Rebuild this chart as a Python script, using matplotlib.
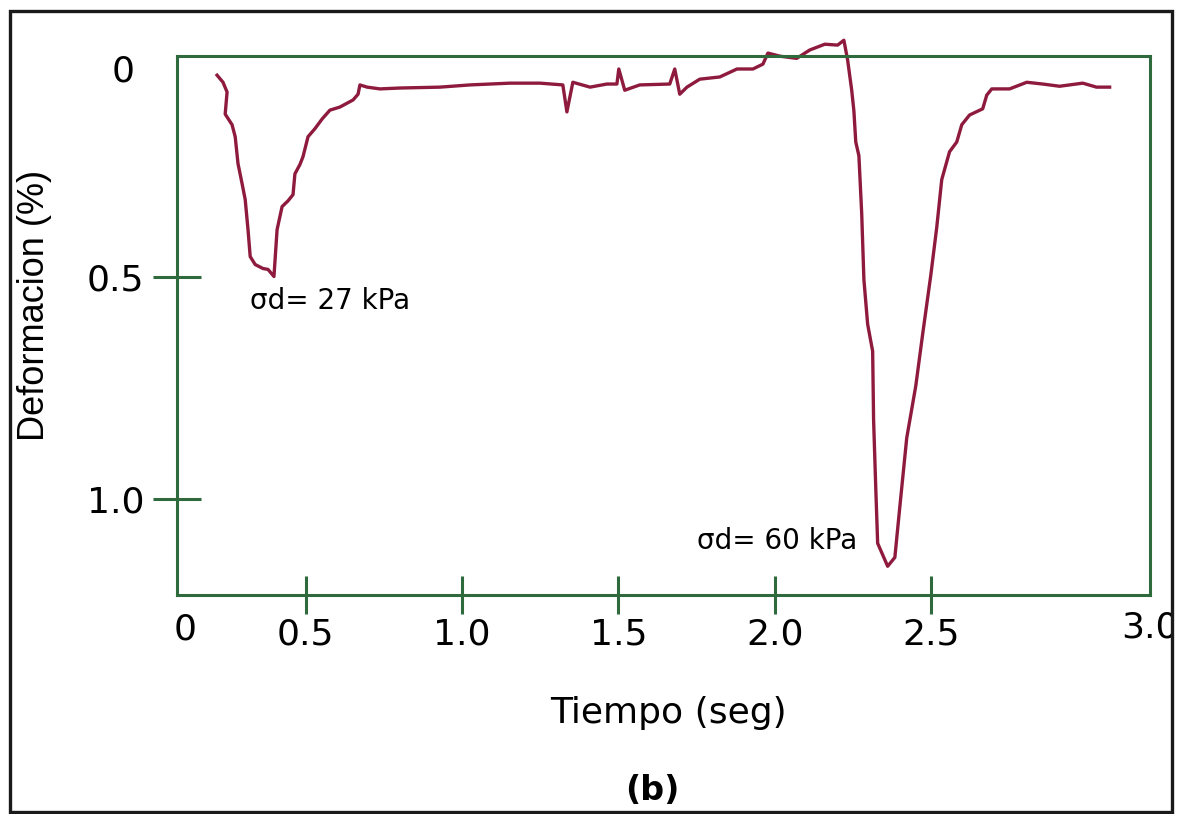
import matplotlib
matplotlib.use("Agg")
import matplotlib.pyplot as plt
from matplotlib.patches import Rectangle

# trace: time (s) vs deformation (%)
time_s = [0.216, 0.235, 0.248, 0.242, 0.264, 0.274, 0.283, 0.296, 0.306, 0.315,
          0.322, 0.338, 0.363, 0.379, 0.398, 0.408, 0.424, 0.443, 0.459, 0.465,
          0.481, 0.491, 0.507, 0.529, 0.552, 0.577, 0.609, 0.651, 0.667, 0.673,
          0.696, 0.737, 0.801, 0.929, 1.025, 1.153, 1.249, 1.322, 1.335, 1.354,
          1.409, 1.463, 1.495, 1.501, 1.520, 1.568, 1.664, 1.680, 1.696, 1.719,
          1.760, 1.824, 1.879, 1.930, 1.962, 1.978, 2.016, 2.070, 2.112, 2.160,
          2.201, 2.221, 2.233, 2.246, 2.253, 2.259, 2.269, 2.278, 2.285, 2.297,
          2.313, 2.316, 2.323, 2.329, 2.361, 2.384, 2.400, 2.422, 2.451, 2.473,
          2.499, 2.518, 2.534, 2.559, 2.582, 2.598, 2.623, 2.665, 2.678, 2.694,
          2.751, 2.806, 2.857, 2.911, 2.985, 3.029, 3.071]
deformation = [0.043, 0.059, 0.081, 0.131, 0.155, 0.182, 0.243, 0.288, 0.324, 0.392,
               0.453, 0.471, 0.480, 0.482, 0.498, 0.392, 0.340, 0.327, 0.313, 0.266,
               0.245, 0.227, 0.182, 0.164, 0.142, 0.122, 0.115, 0.099, 0.086, 0.065,
               0.070, 0.074, 0.072, 0.070, 0.065, 0.061, 0.061, 0.065, 0.126, 0.059,
               0.070, 0.063, 0.063, 0.029, 0.077, 0.065, 0.063, 0.029, 0.086, 0.070,
               0.052, 0.047, 0.029, 0.029, 0.018, -0.007, 0.000, 0.005, -0.014, -0.027,
               -0.025, -0.036, 0.009, 0.077, 0.124, 0.194, 0.225, 0.356, 0.505, 0.606,
               0.667, 0.822, 0.977, 1.101, 1.153, 1.133, 1.018, 0.863, 0.745, 0.628,
               0.495, 0.387, 0.279, 0.216, 0.194, 0.155, 0.133, 0.119, 0.088, 0.074,
               0.074, 0.059, 0.063, 0.068, 0.061, 0.070, 0.070]

x_ticks = [0.5, 1.0, 1.5, 2.0, 2.5]
x_labels = ["0.5", "1.0", "1.5", "2.0", "2.5"]
y_ticks = [0.5, 1.0]
y_labels = ["0.5", "1.0"]

green = "#2f6a3c"
crimson = "#8e1b3e"

fig = plt.figure(figsize=(11.89, 8.14), dpi=100)
ax = fig.add_axes([0.1489, 0.269, 0.818, 0.662])

ax.plot(time_s, deformation, color=crimson, lw=2.4, clip_on=False)

ax.set_xlim(0.088, 3.199)
ax.set_ylim(1.218, 0.0)

for s in ax.spines.values():
    s.set_color(green)
    s.set_linewidth(2.2)

ax.set_xticks(x_ticks)
ax.set_xticklabels(x_labels)
ax.set_yticks(y_ticks)
ax.set_yticklabels(y_labels)
ax.tick_params(axis="x", direction="inout", length=27, width=2.2, color=green,
               labelsize=26, pad=3)
ax.tick_params(axis="y", direction="inout", length=35, width=2.2, color=green,
               labelsize=26, pad=6)

# outer frame of the panel
frame = Rectangle((10 / 1189, 2 / 814), 1162 / 1189, 801 / 814,
                  transform=fig.transFigure, fill=False,
                  edgecolor="#1a1a1a", lw=2.4, zorder=10)
fig.add_artist(frame)

# the two end labels sit off the tick grid in the original
fig.text(185 / 1189, 1 - 630 / 814, "0", fontsize=26, ha="center", va="center")
t30 = fig.text(1150 / 1189, 1 - 628 / 814, "3.0", fontsize=26,
               ha="center", va="center")
t30.set_clip_path(frame)
fig.text(123 / 1189, 1 - 72 / 814, "0", fontsize=26, ha="center", va="center")

fig.text(668 / 1189, 1 - 713 / 814, "Tiempo (seg)", fontsize=26,
         ha="center", va="center")
fig.text(35 / 1189, 1 - 305 / 814, "Deformacion (%)", fontsize=26,
         family="Liberation Sans", rotation=90, ha="center", va="center")
fig.text(652 / 1189, 1 - 790 / 814, "(b)", fontsize=24, fontweight="bold",
         ha="center", va="center")

ax.text(0.322, 0.554, "σd= 27 kPa", fontsize=20, ha="left", va="center")
ax.text(1.751, 1.095, "σd= 60 kPa", fontsize=20, ha="left", va="center")

fig.savefig("out.png", dpi=100)
